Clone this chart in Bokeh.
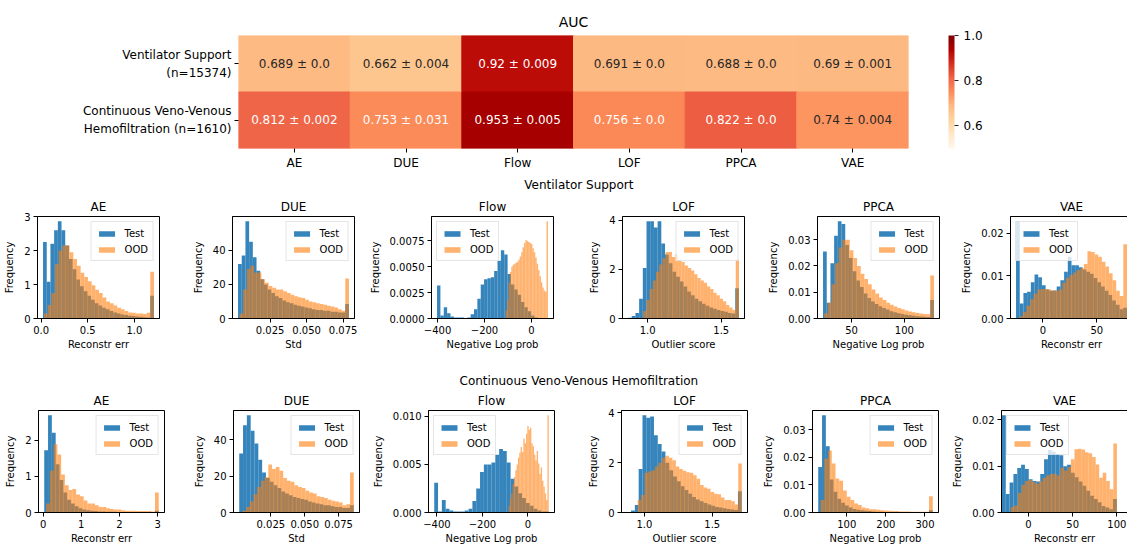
import numpy as np
from bokeh.plotting import figure
from bokeh.models import (ColumnDataSource, FactorRange, Range1d, LinearColorMapper, ColorBar,
                          FixedTicker, PrintfTickFormatter, Legend, LegendItem)
from bokeh.layouts import column, row
from bokeh.core.properties import value
from bokeh.embed import file_html
from bokeh.resources import INLINE
from bokeh.palettes import OrRd9

FONT = "DejaVu Sans"
BLUE = "#1f77b4"
ORANGE = "#ff7f0e"

# ---------------- AUC heatmap data ----------------
methods = ["AE", "DUE", "Flow", "LOF", "PPCA", "VAE"]
task_labels = ["Ventilator Support\n(n=15374)", "Continuous Veno-Venous\nHemofiltration (n=1610)"]
vent_auc_mean = [0.689, 0.662, 0.92, 0.691, 0.688, 0.69]
vent_auc_std = [0.0, 0.004, 0.009, 0.0, 0.0, 0.001]
cvvh_auc_mean = [0.812, 0.753, 0.953, 0.756, 0.822, 0.74]
cvvh_auc_std = [0.002, 0.031, 0.005, 0.0, 0.0, 0.004]
cbar_ticks = [0.6, 0.8, 1.0]
cbar_low, cbar_high = 0.5, 1.0

# ---------------- Histogram data (density, 30 bins each) ----------------
# Ventilator Support
vent_ae_test_range = [0.02, 1.21]
vent_ae_test = [2.25, 1.08, 2.2, 2.6, 2.86, 2.6, 2.15, 1.75, 1.45, 1.15, 0.95, 0.8, 0.67, 0.55, 0.45,
                0.38, 0.32, 0.27, 0.22, 0.18, 0.15, 0.12, 0.1, 0.08, 0.07, 0.06, 0.05, 0.04, 0.03, 0.67]
vent_ae_ood_range = [0.03, 1.21]
vent_ae_ood = [0.15, 0.4, 0.75, 1.6, 2.0, 2.15, 2.15, 1.95, 1.75, 1.55, 1.35, 1.22, 1.1, 0.98, 0.85,
               0.75, 0.62, 0.5, 0.45, 0.38, 0.32, 0.27, 0.22, 0.18, 0.17, 0.15, 0.15, 0.13, 0.17, 1.38]

vent_due_test_range = [0.003, 0.079]
vent_due_test = [32, 37, 57, 45, 36, 28, 23, 20, 17, 15, 13, 12, 10.5, 9.5, 9,
                 8, 7.5, 7, 6.5, 6, 5.5, 5, 5, 4.5, 4.5, 4, 4, 3.5, 3.5, 8.5]
vent_due_ood_range = [0.004, 0.079]
vent_due_ood = [3, 17, 29, 31, 27, 27, 23, 21, 19, 18, 17, 17, 16, 15, 14,
                13, 12.5, 12, 11, 10, 9.5, 9, 8.5, 8, 7.5, 7, 6.5, 5.5, 4.5, 23.5]

vent_flow_test_range = [-402, 27]
vent_flow_test = [0.0032, 0.0003, 0.0011, 0.0005, 0.0002, 0.0001, 0.0001, 0.0001, 0.00005, 0.0001,
                  0.0004, 0.0009, 0.0019, 0.0033, 0.0038, 0.0039, 0.004, 0.0046, 0.0056, 0.0066,
                  0.0062, 0.0043, 0.0033, 0.0028, 0.0023, 0.0016, 0.0011, 0.0007, 0.0003, 0.0001]
vent_flow_ood_range = [-110, 70]
vent_flow_ood = [0.0008, 0.0018, 0.0035, 0.0045, 0.005, 0.0052, 0.0053, 0.0054, 0.0055, 0.0057,
                 0.006, 0.0064, 0.0069, 0.0073, 0.0076, 0.0075, 0.0074, 0.0073, 0.0072, 0.0068,
                 0.0064, 0.0059, 0.0053, 0.0047, 0.0041, 0.0035, 0.003, 0.0027, 0.0026, 0.0094]

vent_lof_test_range = [0.867, 1.62]
vent_lof_test = [0.03, 0.1, 0.22, 0.8, 2.05, 3.95, 3.95, 3.7, 3.95, 3.05, 2.6, 2.25, 1.9, 1.7, 1.5,
                 1.3, 1.1, 0.95, 0.8, 0.7, 0.6, 0.52, 0.45, 0.4, 0.35, 0.3, 0.27, 0.22, 0.2, 1.23]
vent_lof_ood_range = [0.97, 1.62]
vent_lof_ood = [0.3, 0.75, 1.2, 1.55, 1.9, 2.2, 2.45, 2.7, 2.7, 2.5, 2.6, 2.4, 2.3, 2.15, 2.05,
                1.95, 1.8, 1.65, 1.55, 1.45, 1.3, 1.2, 1.05, 0.95, 0.8, 0.7, 0.55, 0.45, 0.35, 2.4]

vent_ppca_test_range = [23, 128]
vent_ppca_test = [0.0255, 0.006, 0.021, 0.0315, 0.037, 0.036, 0.028, 0.023, 0.018, 0.0145,
                  0.012, 0.0095, 0.0078, 0.0065, 0.0055, 0.0047, 0.004, 0.0034, 0.0028, 0.0024,
                  0.002, 0.0017, 0.0014, 0.0012, 0.001, 0.0009, 0.0008, 0.0007, 0.0006, 0.007]
vent_ppca_ood_range = [24, 128]
vent_ppca_ood = [0.002, 0.006, 0.013, 0.021, 0.027, 0.03, 0.03, 0.026, 0.023, 0.02,
                 0.017, 0.015, 0.013, 0.011, 0.0095, 0.008, 0.007, 0.006, 0.0052, 0.0046,
                 0.004, 0.0035, 0.003, 0.0027, 0.0024, 0.0021, 0.0019, 0.0017, 0.0016, 0.0164]

vent_vae_test_range = [-25, 78]
vent_vae_test = [0.0228, 0.0035, 0.006, 0.0063, 0.0085, 0.0103, 0.0097, 0.0078, 0.0068, 0.0065,
                 0.0066, 0.0075, 0.009, 0.011, 0.0145, 0.0125, 0.0125, 0.012, 0.0115, 0.011,
                 0.0105, 0.0095, 0.0085, 0.0075, 0.0065, 0.0055, 0.0042, 0.0032, 0.0022, 0.0025]
vent_vae_ood_range = [-22, 78]
vent_vae_ood = [0.0005, 0.0015, 0.003, 0.0045, 0.0058, 0.0068, 0.0069, 0.0069, 0.0068, 0.0066,
                0.0065, 0.0068, 0.0084, 0.0095, 0.0102, 0.0108, 0.0114, 0.0118, 0.0128, 0.0158,
                0.0156, 0.015, 0.0145, 0.0133, 0.0122, 0.0106, 0.009, 0.0065, 0.0053, 0.0174]

# Continuous Veno-Venous Hemofiltration
cvvh_ae_test_range = [0.03, 3.03]
cvvh_ae_test = [1.72, 2.68, 2.2, 1.33, 0.9, 0.55, 0.35, 0.25, 0.17, 0.12, 0.08, 0.06, 0.05, 0.04, 0.03,
                0.03, 0.02, 0.02, 0.02, 0.01, 0.01, 0.01, 0.01, 0.01, 0.01, 0.01, 0.01, 0.01, 0.01, 0.05]
cvvh_ae_ood_range = [0.08, 3.03]
cvvh_ae_ood = [0.25, 1.15, 1.88, 1.6, 1.05, 0.75, 0.62, 0.65, 0.5, 0.45, 0.33, 0.25, 0.25, 0.2, 0.15,
               0.15, 0.12, 0.1, 0.08, 0.08, 0.06, 0.05, 0.05, 0.05, 0.04, 0.04, 0.04, 0.04, 0.03, 0.55]

cvvh_due_test_range = [0.0017, 0.0862]
cvvh_due_test = [32.5, 48, 53.5, 45, 38, 29, 22, 19, 17, 15, 13.5, 11.5, 10.5, 9.5, 8.5,
                 8, 7.5, 7, 6, 5.5, 5, 4.5, 4, 4, 3.5, 3, 3, 2.5, 2.5, 4]
cvvh_due_ood_range = [0.004, 0.0862]
cvvh_due_ood = [1, 3, 6, 10, 14, 17.5, 19.5, 26.5, 24, 25, 23, 19, 17.5, 17, 15,
                14, 13.5, 12, 11, 10.5, 9, 8.5, 8, 7, 6.5, 6, 5.5, 4, 4.5, 22]

cvvh_flow_test_range = [-412, 92]
cvvh_flow_test = [0.0031, 0.0001, 0.0013, 0.0004, 0.0002, 0.0001, 0.0001, 0.0001, 0.0002, 0.0004,
                  0.0012, 0.0025, 0.0042, 0.005, 0.005, 0.0052, 0.006, 0.0066, 0.0064, 0.0052,
                  0.0035, 0.0027, 0.002, 0.0015, 0.001, 0.0007, 0.0004, 0.0002, 0.0001, 0.0001]
cvvh_flow_ood_range = [-85, 92]
cvvh_flow_ood = [0.0007, 0.0015, 0.002, 0.003, 0.0037, 0.0044, 0.005, 0.0057, 0.0062, 0.0068,
                 0.0063, 0.0077, 0.0072, 0.0082, 0.009, 0.0086, 0.0088, 0.0072, 0.0069, 0.006,
                 0.0054, 0.0064, 0.0051, 0.004, 0.0047, 0.0033, 0.0027, 0.002, 0.0013, 0.0101]

cvvh_lof_test_range = [0.873, 1.718]
cvvh_lof_test = [0.02, 0.08, 0.3, 1.75, 3.9, 3.8, 3.85, 3.1, 2.75, 2.45, 2.0, 1.7, 1.45, 1.25, 1.05,
                 0.9, 0.75, 0.62, 0.52, 0.45, 0.38, 0.32, 0.27, 0.22, 0.2, 0.17, 0.14, 0.12, 0.1, 0.85]
cvvh_lof_ood_range = [0.95, 1.718]
cvvh_lof_ood = [0.5, 0.7, 1.6, 1.65, 1.7, 1.85, 2.0, 2.2, 2.28, 2.2, 2.1, 1.85, 1.75, 1.68, 1.62,
                1.6, 1.5, 1.35, 1.1, 1.0, 0.95, 0.82, 0.75, 0.73, 0.6, 0.5, 0.5, 0.45, 0.32, 1.97]

cvvh_ppca_test_range = [27, 320]
cvvh_ppca_test = [0.0165, 0.0352, 0.024, 0.012, 0.0075, 0.005, 0.0035, 0.0025, 0.0018, 0.0013,
                  0.001, 0.0008, 0.0006, 0.0005, 0.0004, 0.0003, 0.0003, 0.0002, 0.0002, 0.0002,
                  0.0001, 0.0001, 0.0001, 0.0001, 0.0001, 0.0001, 0.0001, 0.0001, 0.0001, 0.0008]
cvvh_ppca_ood_range = [33, 320]
cvvh_ppca_ood = [0.0045, 0.0195, 0.0225, 0.0178, 0.0123, 0.0115, 0.008, 0.0057, 0.0045, 0.0033,
                 0.0027, 0.0018, 0.0015, 0.0012, 0.0012, 0.001, 0.0008, 0.0007, 0.0006, 0.0005,
                 0.0005, 0.0004, 0.0004, 0.0004, 0.0003, 0.0003, 0.0003, 0.0003, 0.0003, 0.0059]

cvvh_vae_test_range = [-30, 100]
cvvh_vae_test = [0.021, 0.004, 0.0065, 0.0083, 0.0096, 0.0103, 0.0094, 0.0072, 0.0068, 0.0067,
                 0.0083, 0.0115, 0.0135, 0.0132, 0.0127, 0.0124, 0.01, 0.0103, 0.0086, 0.0076,
                 0.0067, 0.0058, 0.0047, 0.0036, 0.0029, 0.0022, 0.0014, 0.0011, 0.0007, 0.0029]
cvvh_vae_ood_range = [-20, 100]
cvvh_vae_ood = [0.0012, 0.0015, 0.0042, 0.006, 0.0068, 0.007, 0.0066, 0.0062, 0.0067, 0.0075,
                0.008, 0.0083, 0.0084, 0.008, 0.0097, 0.0091, 0.0098, 0.0115, 0.0137, 0.0138,
                0.0136, 0.013, 0.0128, 0.012, 0.0104, 0.0075, 0.0086, 0.0068, 0.005, 0.0149]
cvvh_vae_xlim = [-30.5, 112]

# ---------------- tick values / labels ----------------
vent_ae_xticks, vent_ae_xlabels = [0, 0.5, 1], ["0.0", "0.5", "1.0"]
vent_ae_yticks, vent_ae_ylabels = [0, 1, 2, 3], ["0", "1", "2", "3"]
vent_due_xticks, vent_due_xlabels = [0.025, 0.05, 0.075], ["0.025", "0.050", "0.075"]
vent_due_yticks, vent_due_ylabels = [0, 20, 40], ["0", "20", "40"]
vent_flow_xticks, vent_flow_xlabels = [-400, -200, 0], ["\u2212400", "\u2212200", "0"]
vent_flow_yticks, vent_flow_ylabels = [0, 0.0025, 0.005, 0.0075], ["0.0000", "0.0025", "0.0050", "0.0075"]
vent_lof_xticks, vent_lof_xlabels = [1, 1.5], ["1.0", "1.5"]
vent_lof_yticks, vent_lof_ylabels = [0, 2, 4], ["0", "2", "4"]
vent_ppca_xticks, vent_ppca_xlabels = [50, 100], ["50", "100"]
vent_ppca_yticks, vent_ppca_ylabels = [0, 0.01, 0.02, 0.03], ["0.00", "0.01", "0.02", "0.03"]
vent_vae_xticks, vent_vae_xlabels = [0, 50], ["0", "50"]
vent_vae_yticks, vent_vae_ylabels = [0, 0.01, 0.02], ["0.00", "0.01", "0.02"]

cvvh_ae_xticks, cvvh_ae_xlabels = [0, 1, 2, 3], ["0", "1", "2", "3"]
cvvh_ae_yticks, cvvh_ae_ylabels = [0, 1, 2], ["0", "1", "2"]
cvvh_due_xticks, cvvh_due_xlabels = [0.025, 0.05, 0.075], ["0.025", "0.050", "0.075"]
cvvh_due_yticks, cvvh_due_ylabels = [0, 20, 40], ["0", "20", "40"]
cvvh_flow_xticks, cvvh_flow_xlabels = [-400, -200, 0], ["\u2212400", "\u2212200", "0"]
cvvh_flow_yticks, cvvh_flow_ylabels = [0, 0.005, 0.01], ["0.000", "0.005", "0.010"]
cvvh_lof_xticks, cvvh_lof_xlabels = [1, 1.5], ["1.0", "1.5"]
cvvh_lof_yticks, cvvh_lof_ylabels = [0, 2, 4], ["0", "2", "4"]
cvvh_ppca_xticks, cvvh_ppca_xlabels = [100, 200, 300], ["100", "200", "300"]
cvvh_ppca_yticks, cvvh_ppca_ylabels = [0, 0.01, 0.02, 0.03], ["0.00", "0.01", "0.02", "0.03"]
cvvh_vae_xticks, cvvh_vae_xlabels = [0, 50, 100], ["0", "50", "100"]
cvvh_vae_yticks, cvvh_vae_ylabels = [0, 0.01, 0.02], ["0.00", "0.01", "0.02"]

xaxis_labels = ["Reconstr err", "Std", "Negative Log prob", "Outlier score", "Negative Log prob", "Reconstr err"]
legend_locs = ["top_right", "top_right", "top_left", "top_right", "top_right", "top_left"]

# ---------------- palette (matplotlib-like OrRd) ----------------
def hex2rgb(c):
    return [int(c[i:i + 2], 16) for i in (1, 3, 5)]

base = list(OrRd9)
light_to_dark = base if sum(hex2rgb(base[0])) > sum(hex2rgb(base[-1])) else base[::-1]
rgb = np.array([hex2rgb(c) for c in light_to_dark], dtype=float)
pos = np.linspace(0, 1, len(rgb))
samp = np.linspace(0, 1, 256)
pal_rgb = np.stack([np.interp(samp, pos, rgb[:, k]) for k in range(3)], axis=1)
palette = ["#%02x%02x%02x" % tuple(int(round(v)) for v in c) for c in pal_rgb]


def lum(c):
    out = []
    for v in c / 255.0:
        out.append(v / 12.92 if v <= 0.03928 else ((v + 0.055) / 1.055) ** 2.4)
    return 0.2126 * out[0] + 0.7152 * out[1] + 0.0722 * out[2]


# ---------------- heatmap ----------------
hx, hy, hv, hl, htc = [], [], [], [], []
for task, means, stds in [(task_labels[0], vent_auc_mean, vent_auc_std),
                          (task_labels[1], cvvh_auc_mean, cvvh_auc_std)]:
    for m, mu, sd in zip(methods, means, stds):
        hx.append(m)
        hy.append(task)
        hv.append(mu)
        hl.append(f"{mu} \u00b1 {sd}")
        idx = int(np.clip((mu - cbar_low) / (cbar_high - cbar_low) * 255.999, 0, 255))
        htc.append("#262626" if lum(pal_rgb[idx]) > 0.408 else "#ffffff")
hsrc = ColumnDataSource(dict(method=hx, task=hy, auc=hv, label=hl, tcolor=htc))

mapper = LinearColorMapper(palette=palette, low=cbar_low, high=cbar_high)
heat = figure(x_range=FactorRange(*methods), y_range=FactorRange(*task_labels[::-1]),
              frame_width=670, frame_height=113, min_border_left=238, min_border_right=218,
              min_border_top=35, min_border_bottom=26, title="AUC",
              toolbar_location=None, output_backend="svg")
heat.rect(x="method", y="task", width=1, height=1, source=hsrc,
          fill_color={"field": "auc", "transform": mapper},
          line_color={"field": "auc", "transform": mapper}, line_width=1)
heat.text(x="method", y="task", text="label", text_color="tcolor", source=hsrc,
          text_align="center", text_baseline="middle",
          text_font=value(FONT), text_font_size="12px")
heat.title.align = "center"
heat.title.text_font = FONT
heat.title.text_font_size = "14px"
heat.title.text_font_style = "normal"
heat.title.text_color = "#000000"
heat.title.standoff = 11
heat.outline_line_color = None
heat.xgrid.visible = False
heat.ygrid.visible = False
for ax in (heat.xaxis[0], heat.yaxis[0]):
    ax.axis_line_color = None
    ax.major_tick_out = 4
    ax.major_tick_in = 0
    ax.major_tick_line_color = "#000000"
    ax.major_label_text_font = FONT
    ax.major_label_text_font_size = "12px"
    ax.major_label_text_color = "#000000"
    ax.major_label_standoff = 3
heat.yaxis[0].major_label_text_line_height = 1.27

cb = ColorBar(color_mapper=mapper, ticker=FixedTicker(ticks=cbar_ticks),
              formatter=PrintfTickFormatter(format="%.1f"), width=6, height=113,
              location=(40, 0), padding=0, major_tick_in=0, major_tick_out=4,
              major_tick_line_color="#262626", minor_tick_line_color=None,
              bar_line_color=None, border_line_color=None, background_fill_alpha=0,
              major_label_text_font=FONT, major_label_text_font_size="12px",
              major_label_text_color="#000000", label_standoff=5)
heat.add_layout(cb, "right")


# ---------------- histograms ----------------
def tick_key(t):
    return int(t) if float(t).is_integer() else t


def style_axis(ax, ticks, labels, label, label_standoff):
    ax.ticker = FixedTicker(ticks=list(ticks))
    ax.major_label_overrides = {tick_key(t): l for t, l in zip(ticks, labels)}
    ax.axis_label = label
    ax.axis_label_text_font = FONT
    ax.axis_label_text_font_size = "10px"
    ax.axis_label_text_font_style = "normal"
    ax.axis_label_text_color = "#000000"
    ax.axis_label_standoff = label_standoff
    ax.major_label_text_font = FONT
    ax.major_label_text_font_size = "10px"
    ax.major_label_text_color = "#000000"
    ax.major_label_standoff = 3
    ax.major_tick_out = 4
    ax.major_tick_in = 0
    ax.major_tick_line_color = "#000000"
    ax.minor_tick_line_color = None
    ax.axis_line_color = "#000000"


def make_hist(title, xlabel, test_h, test_rng, ood_h, ood_rng, xt, xl, yt, yl, loc,
              fw, fh, bl, br, bt, bb, xlim=None):
    te = np.linspace(test_rng[0], test_rng[1], len(test_h) + 1)
    oe = np.linspace(ood_rng[0], ood_rng[1], len(ood_h) + 1)
    if xlim is None:
        lo, hi = min(te[0], oe[0]), max(te[-1], oe[-1])
        pad = 0.05 * (hi - lo)
        xlim = (lo - pad, hi + pad)
    ytop = 1.05 * max(max(test_h), max(ood_h))
    p = figure(title=title, frame_width=fw, frame_height=fh,
               x_range=Range1d(xlim[0], xlim[1]), y_range=Range1d(0, ytop),
               min_border_left=bl, min_border_right=br, min_border_top=bt, min_border_bottom=bb,
               toolbar_location=None, output_backend="svg")
    rt = p.quad(left=te[:-1], right=te[1:], bottom=0, top=test_h,
                fill_color=BLUE, fill_alpha=0.9, line_color=None)
    ro = p.quad(left=oe[:-1], right=oe[1:], bottom=0, top=ood_h,
                fill_color=ORANGE, fill_alpha=0.6, line_color=None)
    style_axis(p.xaxis[0], xt, xl, xlabel, 2)
    style_axis(p.yaxis[0], yt, yl, "Frequency", 6)
    p.xgrid.visible = False
    p.ygrid.visible = False
    p.outline_line_color = "#000000"
    p.outline_line_width = 1
    p.title.align = "center"
    p.title.text_font = FONT
    p.title.text_font_size = "12px"
    p.title.text_font_style = "normal"
    p.title.text_color = "#000000"
    p.title.standoff = 6
    leg = Legend(items=[LegendItem(label="Test", renderers=[rt]),
                        LegendItem(label="OOD", renderers=[ro])],
                 location=loc, label_text_font=FONT, label_text_font_size="10px",
                 label_text_color="#000000", glyph_width=20, glyph_height=7,
                 label_height=12, label_standoff=8, spacing=4, padding=5, margin=5,
                 border_line_color="#cccccc", border_line_width=1,
                 background_fill_color="#ffffff", background_fill_alpha=0.8)
    p.add_layout(leg)
    return p


def sup_fig(text, h, yfrac):
    p = figure(width=1126, height=h, x_range=Range1d(0, 1), y_range=Range1d(0, 1),
               x_axis_type=None, y_axis_type=None, min_border=0,
               toolbar_location=None, output_backend="svg")
    p.outline_line_color = None
    p.xgrid.visible = False
    p.ygrid.visible = False
    p.text(x=[0.508], y=[yfrac], text=[text], text_align="center", text_baseline="middle",
           text_font=value(FONT), text_font_size="12px", text_color="#000000")
    return p


vent_panels = [
    (vent_ae_test, vent_ae_test_range, vent_ae_ood, vent_ae_ood_range, vent_ae_xticks, vent_ae_xlabels, vent_ae_yticks, vent_ae_ylabels, None),
    (vent_due_test, vent_due_test_range, vent_due_ood, vent_due_ood_range, vent_due_xticks, vent_due_xlabels, vent_due_yticks, vent_due_ylabels, None),
    (vent_flow_test, vent_flow_test_range, vent_flow_ood, vent_flow_ood_range, vent_flow_xticks, vent_flow_xlabels, vent_flow_yticks, vent_flow_ylabels, None),
    (vent_lof_test, vent_lof_test_range, vent_lof_ood, vent_lof_ood_range, vent_lof_xticks, vent_lof_xlabels, vent_lof_yticks, vent_lof_ylabels, None),
    (vent_ppca_test, vent_ppca_test_range, vent_ppca_ood, vent_ppca_ood_range, vent_ppca_xticks, vent_ppca_xlabels, vent_ppca_yticks, vent_ppca_ylabels, None),
    (vent_vae_test, vent_vae_test_range, vent_vae_ood, vent_vae_ood_range, vent_vae_xticks, vent_vae_xlabels, vent_vae_yticks, vent_vae_ylabels, None),
]
cvvh_panels = [
    (cvvh_ae_test, cvvh_ae_test_range, cvvh_ae_ood, cvvh_ae_ood_range, cvvh_ae_xticks, cvvh_ae_xlabels, cvvh_ae_yticks, cvvh_ae_ylabels, None),
    (cvvh_due_test, cvvh_due_test_range, cvvh_due_ood, cvvh_due_ood_range, cvvh_due_xticks, cvvh_due_xlabels, cvvh_due_yticks, cvvh_due_ylabels, None),
    (cvvh_flow_test, cvvh_flow_test_range, cvvh_flow_ood, cvvh_flow_ood_range, cvvh_flow_xticks, cvvh_flow_xlabels, cvvh_flow_yticks, cvvh_flow_ylabels, None),
    (cvvh_lof_test, cvvh_lof_test_range, cvvh_lof_ood, cvvh_lof_ood_range, cvvh_lof_xticks, cvvh_lof_xlabels, cvvh_lof_yticks, cvvh_lof_ylabels, None),
    (cvvh_ppca_test, cvvh_ppca_test_range, cvvh_ppca_ood, cvvh_ppca_ood_range, cvvh_ppca_xticks, cvvh_ppca_xlabels, cvvh_ppca_yticks, cvvh_ppca_ylabels, None),
    (cvvh_vae_test, cvvh_vae_test_range, cvvh_vae_ood, cvvh_vae_ood_range, cvvh_vae_xticks, cvvh_vae_xlabels, cvvh_vae_yticks, cvvh_vae_ylabels, cvvh_vae_xlim),
]

row1_left = [37, 40, 61, 36, 52, 52]
row1_right = [30, 12, 33, 21, 19, 1]
row2_left = [38, 40, 55, 36, 52, 52]
row2_right = [26, 10, 31, 13, 11, 6]

row1 = []
for i, pan in enumerate(vent_panels):
    th, tr, oh, orr, xt, xl, yt, yl, xlim = pan
    row1.append(make_hist(methods[i], xaxis_labels[i], th, tr, oh, orr, xt, xl, yt, yl,
                          legend_locs[i], 122, 102, row1_left[i], row1_right[i], 21, 37, xlim))
row2 = []
for i, pan in enumerate(cvvh_panels):
    th, tr, oh, orr, xt, xl, yt, yl, xlim = pan
    row2.append(make_hist(methods[i], xaxis_labels[i], th, tr, oh, orr, xt, xl, yt, yl,
                          legend_locs[i], 126, 102, row2_left[i], row2_right[i], 22, 32, xlim))

sup1 = sup_fig("Ventilator Support", 20, 0.5)
sup2 = sup_fig("Continuous Veno-Venous Hemofiltration", 33, 0.24)

layout = column(heat, sup1, row(*row1, spacing=0), sup2, row(*row2, spacing=0), spacing=0)

open("out.html", "w").write(file_html(layout, INLINE, "AUC"))
